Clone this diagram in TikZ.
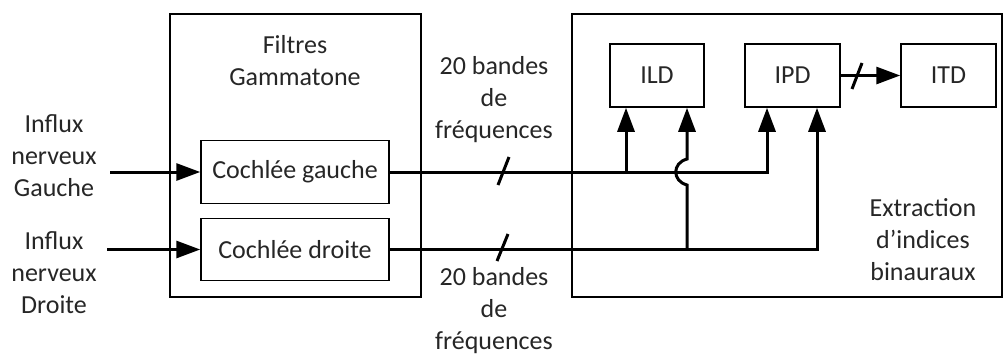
\documentclass[tikz,border=0pt]{standalone}
\usepackage{fontspec}
\setmainfont{Carlito}
\usetikzlibrary{arrows.meta}
\begin{document}
\begin{tikzpicture}[x=1pt,y=-1pt,
  font=\fontsize{26}{32}\selectfont,
  txt/.style={text=black!85, align=center, inner sep=0pt},
  box/.style={draw, line width=1.5pt, inner sep=0pt, text=black!85},
  conn/.style={line width=3pt, -{Triangle[length=24pt,width=17pt]}},
  tick/.style={line width=3pt}]
\useasboundingbox (0,0) rectangle (1003,354);
% outer boxes
\node[box, minimum width=251pt, minimum height=283pt] (filt) at (295.5,155.5) {};
\node[box, minimum width=430pt, minimum height=283pt] (extr) at (787,155.5) {};
% inner boxes
\node[box, minimum width=188pt, minimum height=63pt] (cg) at (295,172) {Cochlée gauche};
\node[box, minimum width=188pt, minimum height=62pt] (cd) at (295,249.5) {Cochlée droite};
\node[box, minimum width=94pt, minimum height=63pt] (ild) at (657,75.5) {ILD};
\node[box, minimum width=95pt, minimum height=63pt] (ipd) at (792.5,75.5) {IPD};
\node[box, minimum width=95pt, minimum height=63pt] (itd) at (948.5,75.5) {ITD};
% labels
\node[txt] (lg) at (54,155.5) {Influx\\nerveux\\Gauche};
\node[txt] (ld) at (54,272.5) {Influx\\nerveux\\Droite};
\node[txt] (lf) at (295,61) {Filtres\\Gammatone};
\node[txt] (lb1) at (494,100) {20 bandes\\de\\fréquences};
\node[txt] (lb2) at (494,311) {20 bandes\\de\\fréquences};
\node[txt] (lx) at (923,240) {Extraction\\d’indices\\binauraux};
% coordinates
\coordinate (inG) at (110,172);
\coordinate (inD) at (107,249.5);
\coordinate (i1) at ([xshift=-31pt]ild.south);
\coordinate (i2) at ([xshift=30pt]ild.south);
\coordinate (p1) at ([xshift=-25.5pt]ipd.south);
\coordinate (p2) at ([xshift=24.5pt]ipd.south);
\coordinate (jc) at (i2 |- cg.east);
% inputs
\draw[conn] (inG) -- (cg.west);
\draw[conn] (inD) -- (cd.west);
% outputs
\draw[conn] (cg.east) -| (p1);
\draw[conn] (cd.east) -| (p2);
\draw[conn] (i1 |- cg.east) -- (i1);
\draw[conn] (i2 |- cd.east) -- ([yshift=-13pt]jc)
  .. controls ([xshift=-15pt,yshift=-9pt]jc) and ([xshift=-15pt,yshift=9pt]jc) .. ([yshift=13pt]jc)
  -- (i2);
\draw[conn] (ipd.east) -- (itd.west);
% slash marks
\draw[tick] (498,185) -- (509,157);
\draw[tick] (497,261) -- (508,234);
\draw[tick] (852,89) -- (862,63);
\end{tikzpicture}
\end{document}
